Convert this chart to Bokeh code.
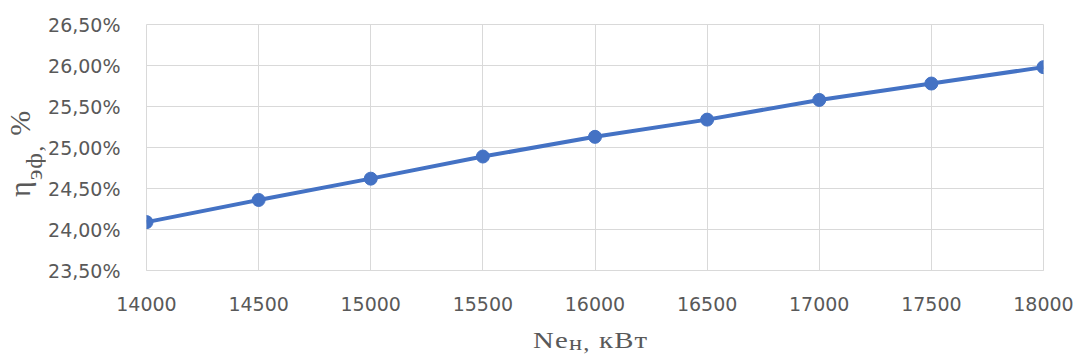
from bokeh.plotting import figure
from bokeh.models import FixedTicker, Range1d, Div
from bokeh.layouts import row, column
from bokeh.embed import file_html
from bokeh.resources import INLINE

# data
ne_kw = [14000, 14500, 15000, 15500, 16000, 16500, 17000, 17500, 18000]
eta_eff = [24.09, 24.36, 24.62, 24.89, 25.13, 25.34, 25.58, 25.78, 25.98]

x_ticks = [14000, 14500, 15000, 15500, 16000, 16500, 17000, 17500, 18000]
y_ticks = [23.5, 24.0, 24.5, 25.0, 25.5, 26.0, 26.5]
y_tick_labels = ["23,50%", "24,00%", "24,50%", "25,00%", "25,50%", "26,00%", "26,50%"]

LINE = "#4472C4"
GRID = "#d9d9d9"
TXT = "#595959"

YDIV_W = 45
P_W = 1076 - YDIV_W

p = figure(width=P_W, height=325, output_backend="svg", toolbar_location=None,
           x_range=Range1d(14000, 18000), y_range=Range1d(23.5, 26.5),
           min_border_left=101, min_border_right=33, min_border_top=24, min_border_bottom=55,
           margin=0)
p.outline_line_color = GRID
p.background_fill_color = "white"
p.border_fill_color = "white"

p.line(ne_kw, eta_eff, line_color=LINE, line_width=4)
p.scatter(ne_kw, eta_eff, size=13, fill_color=LINE, line_color=LINE)

p.xaxis.ticker = FixedTicker(ticks=x_ticks)
p.yaxis.ticker = FixedTicker(ticks=y_ticks)
p.yaxis.major_label_overrides = {t: l for t, l in zip(y_ticks, y_tick_labels)}

for ax in (p.xaxis[0], p.yaxis[0]):
    ax.major_tick_line_color = None
    ax.minor_tick_line_color = None
    ax.major_label_text_font = "DejaVu Sans"
    ax.major_label_text_font_size = "19px"
    ax.major_label_text_color = TXT
p.xaxis.axis_line_color = GRID
p.yaxis.axis_line_color = None
p.xaxis.major_label_standoff = 20
p.yaxis.major_label_standoff = 20

p.xgrid.grid_line_color = GRID
p.ygrid.grid_line_color = GRID
p.xgrid.ticker = FixedTicker(ticks=x_ticks)
p.ygrid.ticker = FixedTicker(ticks=y_ticks)

FONT = "font-family:'Liberation Serif';font-size:24px;line-height:24px;color:%s;white-space:nowrap;letter-spacing:1px;" % TXT

x_title_html = (
    '<div style="position:relative;width:%dpx;height:35px;">'
    '<div style="position:absolute;left:%dpx;top:3px;transform-origin:0 0;transform:scaleX(1.2);%s">'
    'Ne<span style="font-size:85%%;position:relative;top:2px;">н,</span> кВт</div></div>'
    % (P_W, 533 - YDIV_W, FONT)
)
y_title_html = (
    '<div style="position:relative;width:%dpx;height:360px;">'
    '<div style="position:absolute;left:6px;top:197px;transform-origin:0 0;'
    'transform:rotate(-90deg) scale(1.25,1.2);%s">'
    'η<span style="font-size:80%%;position:relative;top:10px;">эф,</span> %%</div></div>'
    % (YDIV_W, FONT)
)

xdiv = Div(text=x_title_html, width=P_W, height=35, margin=0)
ydiv = Div(text=y_title_html, width=YDIV_W, height=360, margin=0)

layout = row(ydiv, column(p, xdiv, spacing=0, margin=0), spacing=0, margin=0)

open("out.html", "w").write(file_html(layout, INLINE))
